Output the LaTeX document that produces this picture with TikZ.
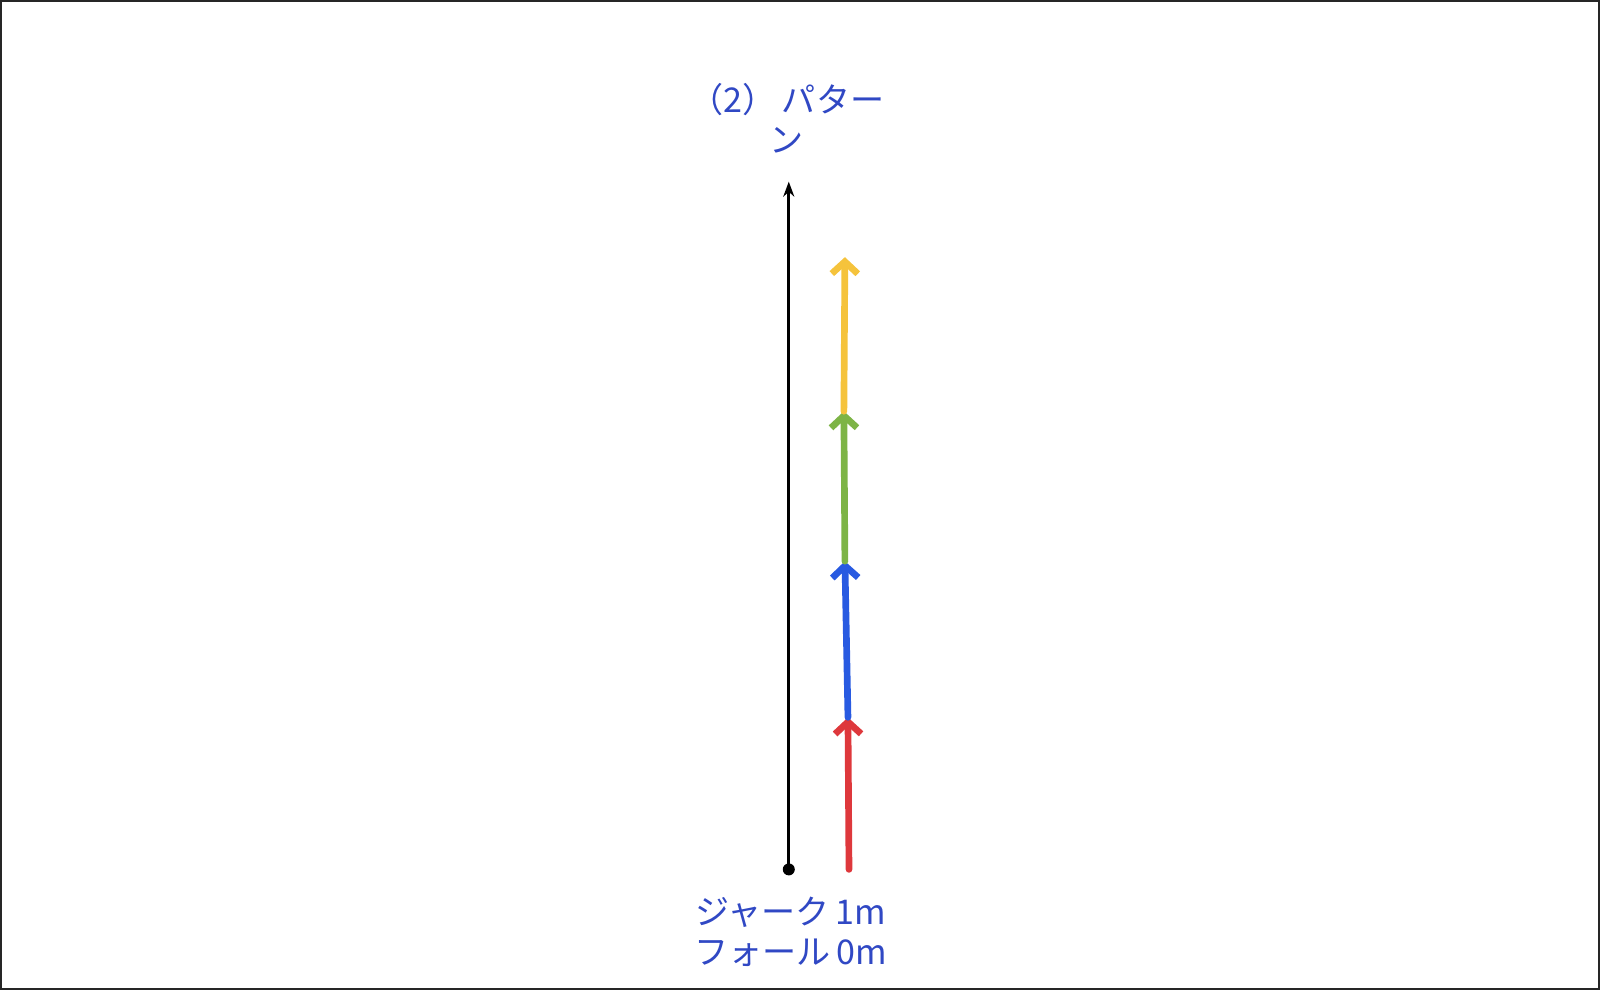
\documentclass[tikz,border=0pt]{standalone}
\usepackage{fontspec}
\newfontfamily\jp{Noto Sans CJK JP}
\usetikzlibrary{arrows.meta}
\definecolor{labelblue}{RGB}{48,72,196}
\definecolor{crayonred}{RGB}{222,56,60}
\definecolor{crayonblue}{RGB}{40,90,225}
\definecolor{crayongreen}{RGB}{125,180,70}
\definecolor{crayonyellow}{RGB}{245,195,60}
\begin{document}
\begin{tikzpicture}[x=0.010204cm,y=-0.010204cm]
\tikzstyle{every node}=[font=\jp\fontsize{9.7}{11.2}\selectfont, text=labelblue, align=center, inner sep=0];
\tikzstyle{crayon}=[line width=1.9pt, line cap=round, -{Straight Barb[length=0.12cm,width=0.26cm]}];

  \useasboundingbox (0,0) rectangle (1568,970);
  \draw[black!85, line width=0.7pt] (1,1) rectangle (1567,969);

  \node (title) at (771,116) {（2）\,パター\\ン};
  \node (jerk) at (775,913) {\fontsize{9.7}{13.2}\selectfont ジャーク\,1m\\フォール\,0m};

  \node[circle, fill=black, minimum size=0.12cm] (start) at (773,852) {};
  \coordinate (top) at (773,178);
  \draw [-{Stealth[length=0.15cm,width=0.11cm]}, line width=0.8pt] (start.center) -- (top);

  \coordinate (s0) at (832,852);
  \coordinate (s1) at (831,703);
  \coordinate (s2) at (828,550);
  \coordinate (s3) at (827,403);
  \coordinate (s4) at (828,252);

  \foreach \from/\to/\col in {s0/s1/crayonred, s1/s2/crayonblue, s2/s3/crayongreen, s3/s4/crayonyellow}
\draw [crayon, draw=\col] (\from) -- (\to);

\end{tikzpicture}
\end{document}
